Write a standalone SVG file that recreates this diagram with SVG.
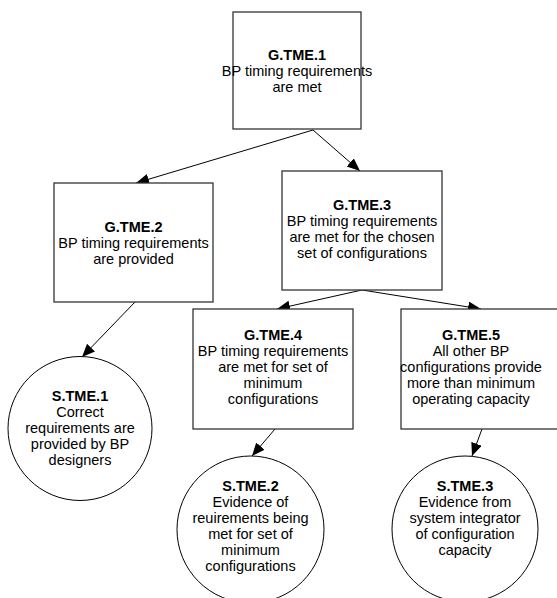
<svg xmlns="http://www.w3.org/2000/svg" width="557" height="598" viewBox="0 0 557 598">
<style>
.box{fill:#fff;stroke:#333;stroke-width:1.3}
.circ{fill:#fff;stroke:#000;stroke-width:1}
.t{font-family:"Liberation Sans",Arial,sans-serif;font-size:14.5px;fill:#000;text-anchor:middle}
.b{font-weight:bold}
.edge{stroke:#000;stroke-width:1;fill:none;marker-end:url(#arr)}
</style>
<defs>
<marker id="arr" markerUnits="userSpaceOnUse" markerWidth="14" markerHeight="12" refX="13" refY="5.5" orient="auto">
<path d="M0,0 L13,5.5 L0,11 Z" fill="#000"/>
</marker>
</defs>
<rect width="557" height="598" fill="#fff"/>
<g id="connectors">
<line class="edge" x1="313" y1="130" x2="136" y2="183"/>
<line class="edge" x1="313" y1="130" x2="360" y2="171"/>
<line class="edge" x1="135" y1="302" x2="82" y2="357"/>
<line class="edge" x1="362" y1="290" x2="277" y2="309"/>
<line class="edge" x1="362" y1="290" x2="481" y2="309"/>
<line class="edge" x1="275" y1="429" x2="252" y2="456"/>
<line class="edge" x1="482" y1="429" x2="472" y2="456"/>
</g>
<g id="G.TME.1">
<rect class="box" x="233" y="12" width="128" height="117"/>
<text class="t b" x="297" y="59.5">G.TME.1</text>
<text class="t" x="297" y="75.5">BP timing requirements</text>
<text class="t" x="297" y="91.5">are met</text>
</g>
<g id="G.TME.2">
<rect class="box" x="54" y="183" width="159" height="119"/>
<text class="t b" x="133.5" y="231.5">G.TME.2</text>
<text class="t" x="133.5" y="247.5">BP timing requirements</text>
<text class="t" x="133.5" y="263.5">are provided</text>
</g>
<g id="G.TME.3">
<rect class="box" x="282" y="171" width="160" height="119"/>
<text class="t b" x="362" y="210">G.TME.3</text>
<text class="t" x="362" y="226">BP timing requirements</text>
<text class="t" x="362" y="242">are met for the chosen</text>
<text class="t" x="362" y="258">set of configurations</text>
</g>
<g id="G.TME.4">
<rect class="box" x="193" y="309" width="160" height="120"/>
<text class="t b" x="273" y="340">G.TME.4</text>
<text class="t" x="273" y="356">BP timing requirements</text>
<text class="t" x="273" y="372">are met for set of</text>
<text class="t" x="273" y="388">minimum</text>
<text class="t" x="273" y="404">configurations</text>
</g>
<g id="G.TME.5">
<rect class="box" x="401" y="309" width="162" height="120"/>
<text class="t b" x="471" y="340">G.TME.5</text>
<text class="t" x="471" y="356">All other BP</text>
<text class="t" x="471" y="372">configurations provide</text>
<text class="t" x="471" y="388">more than minimum</text>
<text class="t" x="471" y="404">operating capacity</text>
</g>
<g id="S.TME.1">
<circle class="circ" cx="80" cy="428.5" r="72"/>
<text class="t b" x="80" y="401">S.TME.1</text>
<text class="t" x="80" y="417">Correct</text>
<text class="t" x="80" y="433">requirements are</text>
<text class="t" x="80" y="449">provided by BP</text>
<text class="t" x="80" y="465">designers</text>
</g>
<g id="S.TME.2">
<circle class="circ" cx="250.5" cy="529.5" r="73.5"/>
<text class="t b" x="250.5" y="491">S.TME.2</text>
<text class="t" x="250.5" y="507">Evidence of</text>
<text class="t" x="250.5" y="523">reuirements being</text>
<text class="t" x="250.5" y="539">met for set of</text>
<text class="t" x="250.5" y="555">minimum</text>
<text class="t" x="250.5" y="571">configurations</text>
</g>
<g id="S.TME.3">
<circle class="circ" cx="465" cy="529" r="73"/>
<text class="t b" x="465" y="491">S.TME.3</text>
<text class="t" x="465" y="507">Evidence from</text>
<text class="t" x="465" y="523">system integrator</text>
<text class="t" x="465" y="539">of configuration</text>
<text class="t" x="465" y="555">capacity</text>
</g>
</svg>
